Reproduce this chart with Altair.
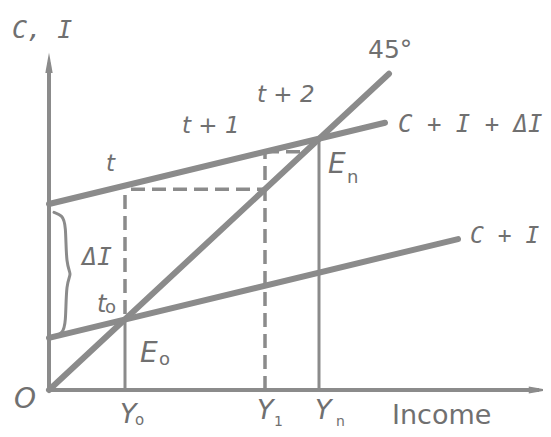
import altair as alt
import pandas as pd

# ---- values (income on x, C, I on y; 45° line is y = x) ----
mpc = 0.26            # slope of the C + I schedules
ci_intercept = 56     # C + I at zero income
cid_intercept = 200   # C + I + ΔI at zero income
ci_end = 409          # income where the C + I line stops
cid_end = 336         # income where the C + I + ΔI line stops
line45_end = 340      # income where the 45° line stops
Y0 = 76               # initial equilibrium income
Y1 = 216              # income after the first round
Yn = 270              # new equilibrium income
yaxis_top = 352
xaxis_end = 490

LINE = "#8b8b8b"
TEXT = "#707070"

def ci(x):
    return ci_intercept + mpc * x

def cid(x):
    return cid_intercept + mpc * x

xs = alt.Scale(domain=[-41, 494], nice=False, zero=False)
ys = alt.Scale(domain=[-41.9, 410.75], nice=False, zero=False)

def seg_df(segs):
    rows = []
    for sid, pts in segs.items():
        for i, (x, y) in enumerate(pts):
            rows.append({"id": sid, "x": x, "y": y, "o": i})
    return pd.DataFrame(rows)

def lines(df, width, dash=None, interp="linear", cap="round", color=LINE):
    kw = dict(strokeWidth=width, color=color, strokeCap=cap, interpolate=interp)
    if dash:
        kw["strokeDash"] = dash
    return alt.Chart(df).mark_line(**kw).encode(
        x=alt.X("x:Q", scale=xs, axis=None),
        y=alt.Y("y:Q", scale=ys, axis=None),
        detail="id:N",
        order="o:Q",
    )

axes_df = seg_df({
    "xaxis": [(0, 0), (xaxis_end, 0)],
    "yaxis": [(0, 0), (0, yaxis_top)],
})
thick_df = seg_df({
    "l45": [(0, 0), (line45_end, line45_end)],
    "ci": [(0, ci_intercept), (ci_end, ci(ci_end))],
    "cid": [(0, cid_intercept), (cid_end, cid(cid_end))],
})
thin_df = seg_df({
    "y0": [(Y0, 0), (Y0, ci(Y0))],
    "yn": [(Yn, 0), (Yn, cid(Yn))],
})
dash_df = seg_df({
    "d1": [(Y0, ci(Y0) + 6), (Y0, cid(Y0))],
    "d2": [(Y0 + 6, Y1), (Y1, Y1)],
    "d3": [(Y1, 0), (Y1, cid(Y1))],
    "d4": [(Y1, cid(Y1)), (cid(Y1), cid(Y1))],
})

# brace marking ΔI between the two intercepts
lo, hi = ci_intercept + 2, cid_intercept - 9
mid = (lo + hi) / 2
brace_df = seg_df({"brace": [
    (5, hi), (13, hi - 3), (17, hi - 12), (17, mid + 9), (23, mid),
    (17, mid - 8), (17, lo + 12), (13, lo + 3), (7, lo),
]})

arrow_up = pd.DataFrame({"x": [0], "y": [yaxis_top]})
arrow_right = pd.DataFrame({"x": [xaxis_end], "y": [0]})

def arrow(df, path):
    return alt.Chart(df).mark_point(shape=path, filled=True, size=420, opacity=1,
                                    color=LINE, strokeWidth=0).encode(
        x=alt.X("x:Q", scale=xs, axis=None),
        y=alt.Y("y:Q", scale=ys, axis=None),
    )

# ---- labels ----
mono_labels = pd.DataFrame([
    {"t": "C, I", "x": -37, "y": 378, "fs": 25},
    {"t": "C + I + ΔI", "x": 349, "y": 277, "fs": 24},
    {"t": "C + I", "x": 421, "y": 158, "fs": 23},
    {"t": "ΔI", "x": 33, "y": 134, "fs": 25},
])
ital_labels = pd.DataFrame([
    {"t": "t + 2", "x": 208, "y": 310, "fs": 23},
    {"t": "t + 1", "x": 133, "y": 276, "fs": 23},
    {"t": "t", "x": 57, "y": 236, "fs": 23},
    {"t": "t", "x": 48, "y": 84, "fs": 24},
    {"t": "E", "x": 279, "y": 233, "fs": 28},
    {"t": "E", "x": 91, "y": 30, "fs": 28},
    {"t": "O", "x": -35, "y": -19, "fs": 28},
    {"t": "Y", "x": 71, "y": -35, "fs": 27},
    {"t": "Y", "x": 208, "y": -31, "fs": 27},
    {"t": "Y", "x": 266, "y": -31, "fs": 27},
])
plain_labels = pd.DataFrame([
    {"t": "45°", "x": 319, "y": 357, "fs": 25},
    {"t": "Income", "x": 343, "y": -37, "fs": 27},
    {"t": "n", "x": 298, "y": 223, "fs": 18},
    {"t": "o", "x": 56, "y": 83, "fs": 18},
    {"t": "o", "x": 110, "y": 27, "fs": 18},
    {"t": "o", "x": 86, "y": -37.5, "fs": 15},
    {"t": "1", "x": 225, "y": -39, "fs": 14},
    {"t": "n", "x": 287, "y": -39, "fs": 14},
])

def texts(df, font, style="normal"):
    return alt.Chart(df).mark_text(font=font, fontStyle=style, color=TEXT,
                                   align="left", baseline="alphabetic").encode(
        x=alt.X("x:Q", scale=xs, axis=None),
        y=alt.Y("y:Q", scale=ys, axis=None),
        text="t:N",
        size=alt.Size("fs:Q", scale=None, legend=None),
    )

chart = alt.layer(
    lines(axes_df, 4, cap="butt"),
    arrow(arrow_up, "M0,-1L0.36,1L-0.36,1Z"),
    arrow(arrow_right, "M1,0L-1,0.34L-1,-0.34Z"),
    lines(thin_df, 3, cap="butt"),
    lines(dash_df, 3.5, dash=[14, 7], cap="butt"),
    lines(thick_df, 6),
    lines(brace_df, 3, interp="basis"),
    texts(mono_labels, "DejaVu Sans Mono", "italic"),
    texts(ital_labels, "DejaVu Sans", "italic"),
    texts(plain_labels, "DejaVu Sans"),
).properties(
    width=535, height=421, autosize="none", padding=0, background="white"
).configure_view(stroke=None)

chart.save("out.html", embed_options={"renderer": "svg", "actions": False})
